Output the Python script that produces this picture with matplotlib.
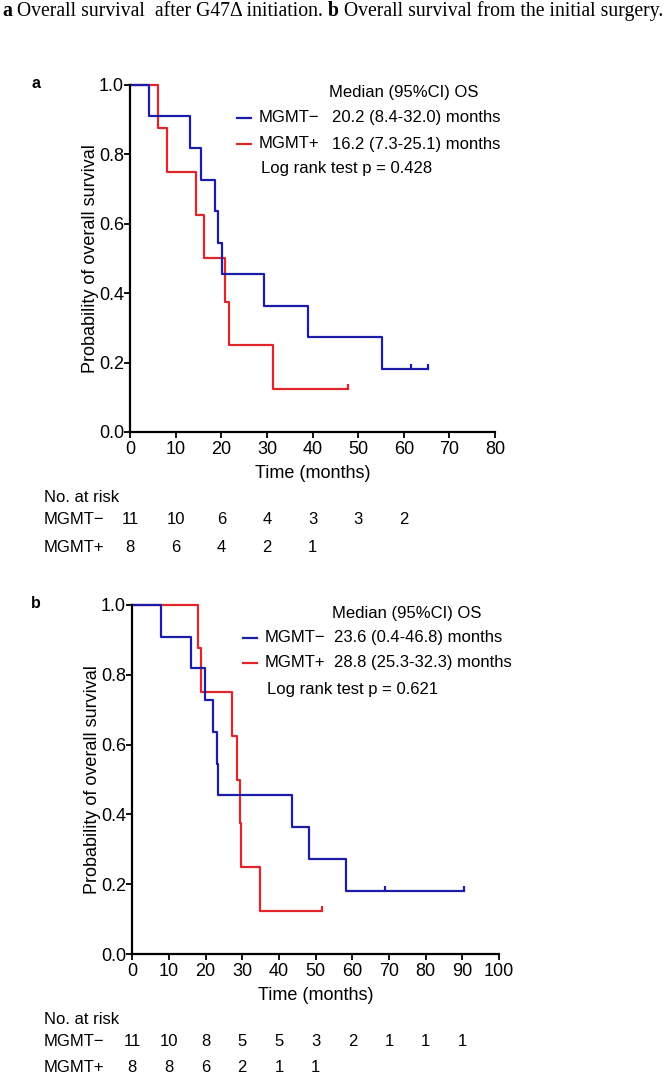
import matplotlib
matplotlib.use("Agg")
import matplotlib.pyplot as plt
from matplotlib.path import Path
import matplotlib.transforms as mtransforms

plt.rcParams['font.family'] = ['Liberation Sans', 'DejaVu Sans']

BLUE = '#1c1caa'
RED = '#e0262b'
W, H = 672, 1078

# panel a: OS after G47delta initiation
a_neg_t = [0, 4.2, 13.2, 15.4, 18.6, 19.3, 20.1, 29.3, 38.9, 55.3, 65.2]
a_neg_s = [1.0, 0.909, 0.818, 0.727, 0.636, 0.545, 0.455, 0.364, 0.273, 0.182, 0.182]
a_neg_cens = [61.6, 65.2]
a_pos_t = [0, 6.0, 8.0, 14.5, 16.2, 20.8, 21.7, 31.4, 47.8]
a_pos_s = [1.0, 0.875, 0.75, 0.625, 0.5, 0.375, 0.25, 0.125, 0.125]
a_pos_cens = [47.8]
a_risk_neg = [11, 10, 6, 4, 3, 3, 2]
a_risk_pos = [8, 6, 4, 2, 1]
a_text = ["20.2 (8.4-32.0) months", "16.2 (7.3-25.1) months", "Log rank test p = 0.428"]

# panel b: OS from initial surgery
b_neg_t = [0, 7.9, 15.9, 19.7, 22.1, 23.1, 23.5, 43.6, 48.3, 58.3, 90.5]
b_neg_s = [1.0, 0.909, 0.818, 0.727, 0.636, 0.545, 0.455, 0.364, 0.273, 0.182, 0.182]
b_neg_cens = [69.0, 90.5]
b_pos_t = [0, 18.0, 18.7, 27.1, 28.6, 29.5, 29.7, 34.8, 51.6]
b_pos_s = [1.0, 0.875, 0.75, 0.625, 0.5, 0.375, 0.25, 0.125, 0.125]
b_pos_cens = [51.6]
b_risk_neg = [11, 10, 8, 5, 5, 3, 2, 1, 1, 1]
b_risk_pos = [8, 8, 6, 2, 1, 1]
b_text = ["23.6 (0.4-46.8) months", "28.8 (25.3-32.3) months", "Log rank test p = 0.621"]

tick_up = Path([(0, 0), (0, 1)], [Path.MOVETO, Path.LINETO])


def fx(px):
    return px / W


def fy(py):
    return 1 - py / H


fig = plt.figure(figsize=(W / 100, H / 100), dpi=100)

# caption with mixed bold / regular
cap_parts = [("a", 'bold'), (" Overall survival  after G47\u0394 initiation. ", 'normal'),
             ("b", 'bold'), (" Overall survival from the initial surgery.", 'normal')]
x = 0.003
renderer = fig.canvas.get_renderer()
for txt, w in cap_parts:
    t = fig.text(x, fy(16), txt, family=['Liberation Serif', 'DejaVu Serif'],
                 fontsize=14.2, fontweight=w, va='baseline', ha='left')
    bb = t.get_window_extent(renderer=renderer)
    x += bb.width / fig.bbox.width

FS = 12


def km_panel(rect, xmax, neg_t, neg_s, neg_c, pos_t, pos_s, pos_c,
             risk_neg, risk_pos, info, label, label_y, risk_y, txt_x, txt_y):
    ax = fig.add_axes(rect)
    for t, s, c, col in [(pos_t, pos_s, pos_c, RED), (neg_t, neg_s, neg_c, BLUE)]:
        ax.step(t, s, where='post', color=col, lw=1.6, clip_on=False)
        cs = [s[max(i for i, tt in enumerate(t) if tt <= cc)] for cc in c]
        ax.plot(c, cs, ls='none', marker=tick_up, ms=7, mew=1.6, color=col, clip_on=False)
    ax.set_xlim(0, xmax)
    ax.set_ylim(0, 1.0)
    ax.set_xticks(range(0, xmax + 1, 10))
    ax.set_yticks([0.0, 0.2, 0.4, 0.6, 0.8, 1.0])
    ax.set_yticklabels(["0.0", "0.2", "0.4", "0.6", "0.8", "1.0"])
    for sp in ['top', 'right']:
        ax.spines[sp].set_visible(False)
    for sp in ['left', 'bottom']:
        ax.spines[sp].set_linewidth(1.6)
    ax.tick_params(direction='out', length=4, width=1.3, labelsize=13)
    ax.tick_params(axis='y', pad=0.5)
    ax.tick_params(axis='x', pad=2.5)
    ax.set_xlabel("Time (months)", fontsize=13, labelpad=5)
    ax.set_ylabel("Probability of overall survival", fontsize=13, labelpad=0)

    # median text block (pixel positions)
    med_x, line_x0, line_x1, lab_x, val_x, log_x = txt_x
    r0, r1, r2, r3 = txt_y
    fig.text(fx(med_x), fy(r0), "Median (95%CI) OS", fontsize=FS, va='center')
    fig.add_artist(plt.Line2D([fx(line_x0), fx(line_x1)], [fy(r1), fy(r1)],
                              color=BLUE, lw=1.6, transform=fig.transFigure))
    fig.add_artist(plt.Line2D([fx(line_x0), fx(line_x1)], [fy(r2), fy(r2)],
                              color=RED, lw=1.6, transform=fig.transFigure))
    fig.text(fx(lab_x), fy(r1), "MGMT\u2212", fontsize=FS, va='center')
    fig.text(fx(lab_x), fy(r2), "MGMT+", fontsize=FS, va='center')
    fig.text(fx(val_x), fy(r1), info[0], fontsize=FS, va='center')
    fig.text(fx(val_x), fy(r2), info[1], fontsize=FS, va='center')
    fig.text(fx(log_x), fy(r3), info[2], fontsize=FS, va='center')

    fig.text(fx(31), fy(label_y), label, fontsize=11.5, fontweight='bold', va='center')

    tr = mtransforms.blended_transform_factory(ax.transData, fig.transFigure)
    fig.text(fx(44), fy(risk_y[0]), "No. at risk", fontsize=FS, va='center')
    fig.text(fx(44), fy(risk_y[1]), "MGMT\u2212", fontsize=FS, va='center')
    fig.text(fx(44), fy(risk_y[2]), "MGMT+", fontsize=FS, va='center')
    for i, n in enumerate(risk_neg):
        ax.text(i * 10, fy(risk_y[1]), str(n), transform=tr, fontsize=FS, ha='center', va='center')
    for i, n in enumerate(risk_pos):
        ax.text(i * 10, fy(risk_y[2]), str(n), transform=tr, fontsize=FS, ha='center', va='center')
    return ax


ax_a = km_panel([fx(130.3), fy(432), fx(495 - 130.3), (432 - 84.7) / H], 80,
                a_neg_t, a_neg_s, a_neg_cens, a_pos_t, a_pos_s, a_pos_cens,
                a_risk_neg, a_risk_pos, a_text, "a", 84,
                [497, 520, 547],
                [329, 237, 251, 259, 332, 261], [93, 117.7, 144, 169])

ax_b = km_panel([fx(132.3), fy(954.3), fx(499 - 132.3), (954.3 - 604.7) / H], 100,
                b_neg_t, b_neg_s, b_neg_cens, b_pos_t, b_pos_s, b_pos_cens,
                b_risk_neg, b_risk_pos, b_text, "b", 604,
                [1020, 1042, 1067],
                [332, 243, 257, 265, 334, 266.7], [613.3, 637.7, 662.7, 689.3])

fig.savefig("out.png", dpi=100)
